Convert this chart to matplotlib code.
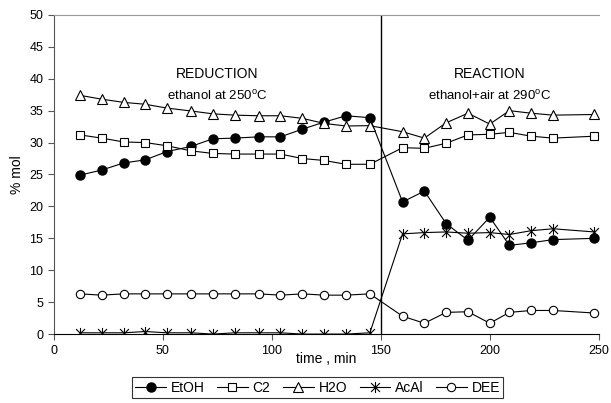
import matplotlib
matplotlib.use("Agg")
import matplotlib.pyplot as plt
from matplotlib.path import Path

plt.rcParams['font.family'] = ['Liberation Sans', 'DejaVu Sans']

# time points (min)
time = [12, 22, 32, 42, 52, 63, 73, 83, 94, 104, 114, 124, 134, 145,
        160, 170, 180, 190, 200, 209, 219, 229, 248]

etoh = [24.9, 25.7, 26.8, 27.3, 28.6, 29.4, 30.6, 30.7, 30.9, 30.9, 32.1, 33.2, 34.2, 33.9,
        20.7, 22.4, 17.3, 14.7, 18.3, 13.9, 14.3, 14.8, 15.0]
c2 = [31.2, 30.7, 30.1, 30.0, 29.5, 28.7, 28.3, 28.2, 28.2, 28.2, 27.5, 27.2, 26.6, 26.6,
      29.2, 29.1, 29.9, 31.2, 31.3, 31.6, 31.0, 30.7, 31.0]
h2o = [37.4, 36.8, 36.3, 36.0, 35.4, 34.95, 34.5, 34.3, 34.2, 34.2, 33.8, 33.0, 32.6, 32.65,
       31.7, 30.7, 33.1, 34.6, 32.9, 35.0, 34.6, 34.3, 34.4]
acal = [0.2, 0.2, 0.2, 0.4, 0.2, 0.2, 0.0, 0.2, 0.2, 0.2, 0.0, 0.0, 0.0, 0.2,
        15.7, 15.9, 16.0, 15.8, 15.9, 15.6, 16.2, 16.5, 16.0]
dee = [6.3, 6.1, 6.3, 6.3, 6.3, 6.3, 6.3, 6.3, 6.3, 6.1, 6.3, 6.1, 6.1, 6.3,
       2.8, 1.7, 3.4, 3.5, 1.7, 3.4, 3.7, 3.7, 3.3]

# asterisk: vertical bar plus an X
star = Path([(0, -1), (0, 1), (-0.8, -0.8), (0.8, 0.8), (-0.8, 0.8), (0.8, -0.8)],
            [Path.MOVETO, Path.LINETO, Path.MOVETO, Path.LINETO, Path.MOVETO, Path.LINETO])

fig = plt.figure(figsize=(6.11, 4.03), dpi=100)
ax = fig.add_axes([0.088, 0.171, 0.892, 0.792])

kw = dict(color='black', lw=0.8)
ax.plot(time, etoh, marker='o', ms=6.5, mfc='black', mec='black', label='EtOH', **kw)
ax.plot(time, c2, marker='s', ms=5.5, mfc='white', mec='black', mew=0.8, label='C2', **kw)
ax.plot(time, h2o, marker='^', ms=7, mfc='white', mec='black', mew=0.8, label='H2O', **kw)
ax.plot(time, acal, marker=star, ms=8, mfc='none', mec='black', mew=0.8, label='AcAl', **kw)
ax.plot(time, dee, marker='o', ms=6, mfc='white', mec='black', mew=0.8, label='DEE', **kw)

ax.axvline(150, color='black', lw=1)

ax.set_xlim(0, 250)
ax.set_ylim(0, 50)
ax.set_xticks([0, 50, 100, 150, 200, 250])
ax.set_yticks(range(0, 51, 5))
ax.tick_params(direction='out', length=4, width=0.8, labelsize=9, color='#555555')
ax.spines['right'].set_visible(False)
ax.spines['top'].set_color('#999999')
ax.spines['top'].set_linewidth(0.8)
ax.spines['left'].set_color('#555555')
ax.spines['bottom'].set_color('black')

ax.set_xlabel('time , min', fontsize=10, labelpad=-3)
ax.set_ylabel('% mol', fontsize=10, labelpad=4)

ax.text(75, 40.8, 'REDUCTION', ha='center', va='center', fontsize=10)
ax.text(75, 37.3, 'ethanol at 250$^{\\mathregular{o}}$C', ha='center', va='center', fontsize=9.5)
ax.text(200, 40.8, 'REACTION', ha='center', va='center', fontsize=10)
ax.text(200, 37.3, 'ethanol+air at 290$^{\\mathregular{o}}$C', ha='center', va='center', fontsize=9.5)

leg = fig.legend(loc='lower center', bbox_to_anchor=(0.52, -0.005), ncol=5, fontsize=10,
                 frameon=True, fancybox=False, edgecolor='black', handlelength=2.2,
                 handletextpad=0.35, columnspacing=0.9, borderpad=0.25)
leg.get_frame().set_linewidth(0.8)

fig.savefig('out.png', dpi=100)
